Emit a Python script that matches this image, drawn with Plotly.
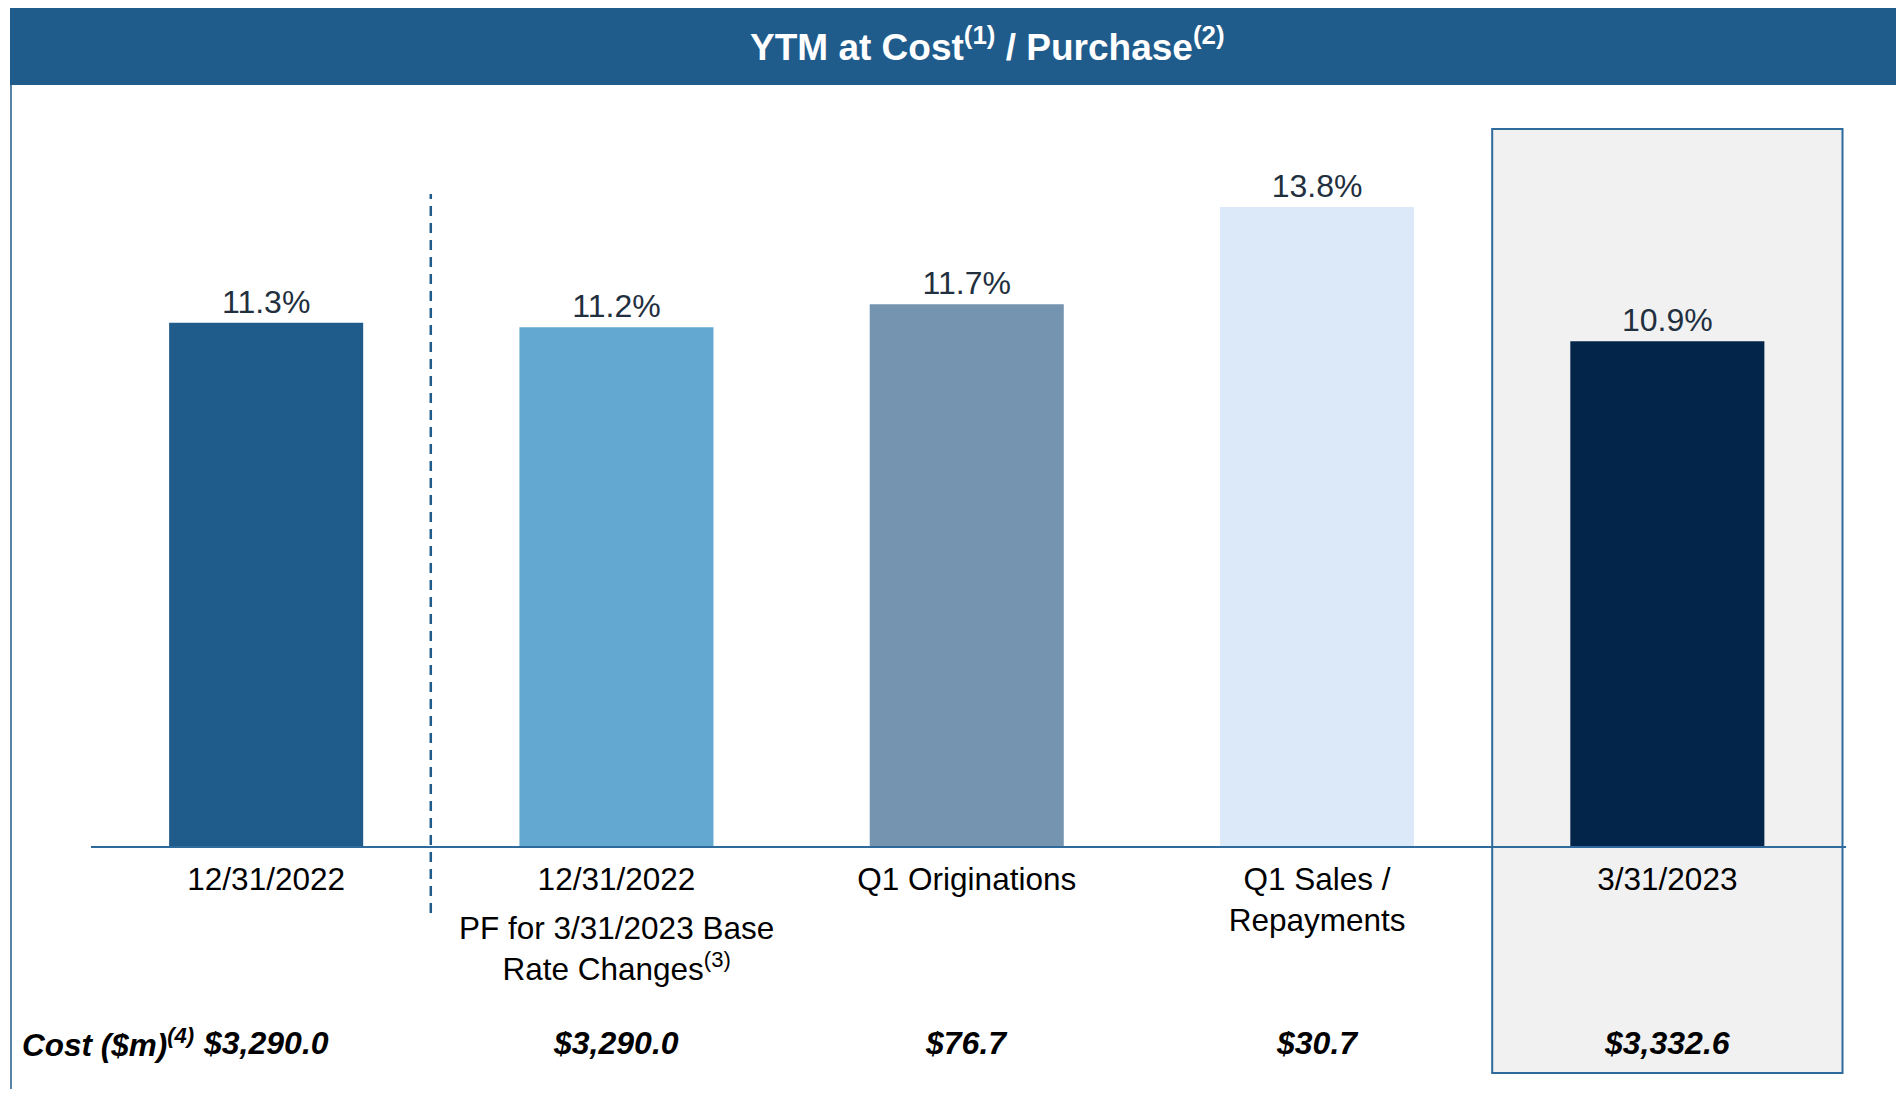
import plotly.graph_objects as go

# the page body has an 8px margin on every side; keep the figure inside the window
OFF = 8
W, H = 1904 - 2 * OFF, 1097 - 2 * OFF
FONT = "Liberation Sans, Arial, sans-serif"

labels = ["12/31/2022", "12/31/2022", "Q1 Originations", "Q1 Sales /<br>Repayments", "3/31/2023"]
ytm = [11.3, 11.2, 11.7, 13.8, 10.9]
cost = ["$3,290.0", "$3,290.0", "$76.7", "$30.7", "$3,332.6"]
bar_colors = ["#1F5C8C", "#63A8D0", "#7594B0", "#DCE9F8", "#032549"]
pf_note = "PF for 3/31/2023 Base<br>Rate Changes<sup>(3)</sup>"

HEADER = "#1F5C8C"
LINE = "#2F6A9C"

x = list(range(len(ytm)))


def px(v):
    return (v - OFF) / W


def py(v):
    return 1 - (v - OFF) / H


fig = go.Figure()
fig.add_bar(
    x=x,
    y=ytm,
    width=0.554,
    marker={"color": bar_colors, "line": {"width": 0}},
    text=[f"{v:.1f}%" for v in ytm],
    textposition="outside",
    textfont={"size": 32, "color": "#222F3E", "family": FONT},
    cliponaxis=False,
    hoverinfo="skip",
)

shapes = [
    # header band
    dict(type="rect", xref="paper", yref="paper", x0=px(10), x1=1.02, y0=py(85), y1=py(8),
         fillcolor=HEADER, line={"width": 0}, layer="below"),
    # left border
    dict(type="line", xref="paper", yref="paper", x0=px(11), x1=px(11), y0=-0.02, y1=py(85),
         line={"color": HEADER, "width": 1.5}),
    # highlighted last column
    dict(type="rect", xref="x", yref="paper", x0=3.5, x1=4.5, y0=py(1073), y1=py(129),
         fillcolor="#F1F1F1", line={"color": LINE, "width": 2}, layer="below"),
    # separator
    dict(type="line", xref="x", yref="paper", x0=0.47, x1=0.47, y0=py(913), y1=py(194),
         line={"color": HEADER, "width": 2.5, "dash": "10px,7px"}),
]

annotations = [
    dict(text="<b>YTM at Cost<sup>(1)</sup> / Purchase<sup>(2)</sup></b>", xref="paper", yref="paper",
         x=px(988), y=py(45), xanchor="center", yanchor="middle", showarrow=False,
         font={"size": 37, "color": "white", "family": FONT}),
    dict(text=pf_note, xref="x", yref="paper", x=1, y=py(948), yanchor="middle", showarrow=False,
         font={"size": 31.5, "color": "black", "family": FONT}),
    dict(text="<b><i>Cost ($m)<sup>(4)</sup></i></b>", xref="paper", yref="paper", x=px(20), y=py(1043),
         xanchor="left", yanchor="middle", showarrow=False, font={"size": 31.5, "color": "black", "family": FONT}),
]
for xi, c in zip(x, cost):
    annotations.append(
        dict(text=f"<b><i>{c}</i></b>", xref="x", yref="paper", x=xi, y=py(1043), yanchor="middle",
             showarrow=False, font={"size": 32, "color": "black", "family": FONT})
    )

fig.update_layout(
    width=W,
    height=H,
    margin={"l": 0, "r": 0, "t": 0, "b": 0},
    paper_bgcolor="white",
    plot_bgcolor="rgba(0,0,0,0)",
    showlegend=False,
    shapes=shapes,
    annotations=annotations,
    font={"family": FONT},
    xaxis=dict(
        domain=[px(91), px(1846)],
        range=[-0.5, 4.51],
        tickvals=x,
        ticktext=labels,
        tickfont={"size": 31.5, "color": "black", "family": FONT},
        ticklabelstandoff=4,
        showline=True,
        linecolor=LINE,
        linewidth=2,
        showgrid=False,
        zeroline=False,
        ticks="",
        automargin=False,
    ),
    yaxis=dict(
        domain=[py(846), py(105)],
        range=[0, 16],
        visible=False,
        automargin=False,
    ),
)

fig.write_html("out.html")
